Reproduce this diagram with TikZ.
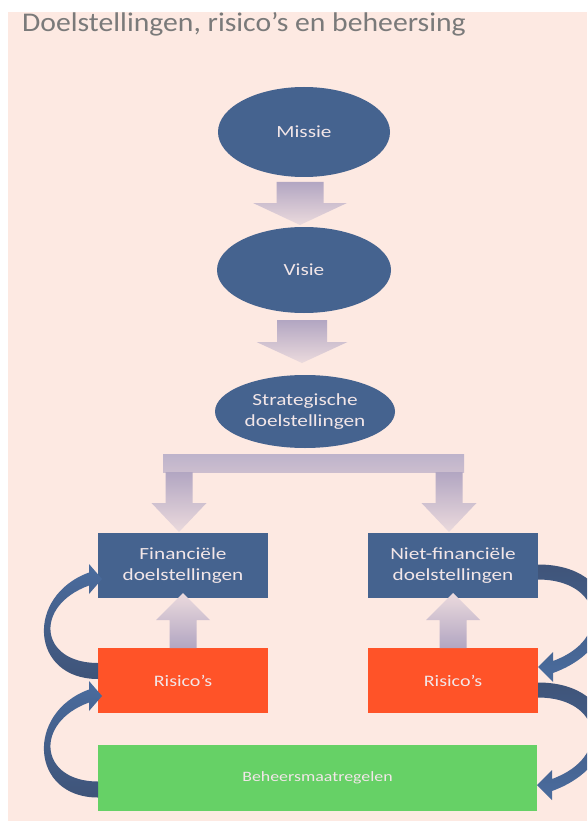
\documentclass[tikz,border=0pt]{standalone}
\usepackage{fontspec}
\setmainfont{Carlito}
\newfontfamily\headfont{Carlito}[FakeStretch=1.1]
\newfontfamily\labelfont{Carlito}[FakeStretch=1.25]
\usepackage{tikz}
\usetikzlibrary{positioning,calc}
\usetikzlibrary{shapes.geometric}
\definecolor{sheetpink}{HTML}{FDE9E2}
\definecolor{boxblue}{HTML}{45638F}
\definecolor{riskred}{HTML}{FF5328}
\definecolor{measuregreen}{HTML}{66D166}
\definecolor{labeltext}{HTML}{F2E6E8}
\definecolor{titlegrey}{HTML}{7A7A7A}
\definecolor{flowdark}{HTML}{B2A6C2}
\definecolor{flowlight}{HTML}{EBDADD}
\definecolor{curldark}{HTML}{3F5479}
\definecolor{curllight}{HTML}{4A6C9E}
% block arrow: style, start, tip, shaft half width, head half width, head length
\newcommand{\blockarrow}[6]{%
	\path[#1] let \p1=#2, \p2=#3, \n1={sign(\y1-\y2)} in
		(\x1-#4,\y1) -- (\x1-#4,\y2+\n1*#6) -- (\x1-#5,\y2+\n1*#6) -- (\x1,\y2)
		-- (\x1+#5,\y2+\n1*#6) -- (\x1+#4,\y2+\n1*#6) -- (\x1+#4,\y1) -- cycle;}
\tikzset{
	ovalnode/.style={ellipse, fill=boxblue, text=labeltext, inner sep=0pt, outer sep=0pt, align=center, font=\labelfont\fontsize{17}{21.5}\selectfont},
	goalbox/.style={rectangle, fill=boxblue, text=labeltext, minimum width=170pt, minimum height=65pt, inner sep=0pt, outer sep=0pt, align=center, font=\labelfont\fontsize{17}{20.5}\selectfont},
	riskbox/.style={goalbox, fill=riskred, font=\labelfont\fontsize{16}{20}\selectfont},
	measurebox/.style={goalbox, fill=measuregreen, minimum width=439pt, minimum height=66pt, font=\labelfont\fontsize{14.3}{18}\selectfont},
	downflow/.style={top color=flowdark, bottom color=flowlight},
	upflow/.style={top color=flowlight, bottom color=flowdark},
	barflow/.style={top color=flowdark!85!white, bottom color=flowdark!55!flowlight},
	leftcurl/.style={top color=curllight, bottom color=curldark},
	rightcurl/.style={top color=curldark, bottom color=curllight},
	heading/.style={text=titlegrey, inner sep=0pt, font=\headfont\fontsize{27}{31}\selectfont}
}
\begin{document}
\begin{tikzpicture}[x=1pt,y=1pt]
	\useasboundingbox (0,0) rectangle (587,-821);
	\clip (0,0) rectangle (587,-821);
	\fill[sheetpink] (8,-12) rectangle (587,-821);
	\node[heading, anchor=base west] (title) at (22,-32) {Doelstellingen, risico’s en beheersing};

	% top chain
	\node[ovalnode, minimum width=172pt, minimum height=90pt] (missie) at (304,-132) {Missie};
	\node[ovalnode, minimum width=174pt, minimum height=86pt, below=50pt of missie] (visie) {Visie};
	\node[ovalnode, minimum width=180pt, minimum height=73pt, below=62pt of visie, xshift=1pt] (strat) {Strategische\\doelstellingen};

	% goals, risks, measures
	\node[goalbox, anchor=north] (finL) at ($(strat.south)+(-122,-85)$) {Financiële\\doelstellingen};
	\node[goalbox, right=100pt of finL] (finR) {Niet-financiële\\doelstellingen};
	\node[riskbox, below=50pt of finL] (risL) {Risico’s};
	\node[riskbox, below=50pt of finR] (risR) {Risico’s};
	\node[measurebox, below=32pt of risL.south west, anchor=north west] (maatr) {Beheersmaatregelen};

	\blockarrow{downflow}{($(missie.south)+(-4,-5)$)}{($(visie.north)+(-4,2)$)}{23.5pt}{47pt}{22pt}
	\blockarrow{downflow}{($(visie.south)+(-2,-7)$)}{($(strat.north)+(-3,12)$)}{25pt}{45.5pt}{21pt}

	\coordinate (split) at ($(strat.south)+(0,-6)$);
	\path[barflow] ($(finL.north |- split)+(-20,0)$) rectangle ($(finR.north |- split)+(11,-18)$);
	\blockarrow{downflow}{($(finL.north |- split)+(-4,-18)$)}{($(finL.north)+(-4,1)$)}{13.5pt}{27.5pt}{29pt}
	\blockarrow{downflow}{($(finR.north |- split)+(-4,-18)$)}{($(finR.north)+(-4,1)$)}{13.5pt}{27.5pt}{29pt}

	\blockarrow{upflow}{(risL.north)}{($(finL.south)+(0,5)$)}{13.5pt}{27pt}{27pt}
	\blockarrow{upflow}{(risR.north)}{($(finR.south)+(0,5)$)}{13.5pt}{27pt}{27pt}

	% curved arrows, left
	\coordinate (tailA) at ($(risL.west)+(0,9.5)$);
	\coordinate (headA) at ($(finL.west)+(0,-13.5)$);
	\path[leftcurl] ($(tailA)+(0,-8)$) to[out=180,in=200,distance=68pt] ($(headA)+(-9,6.5)$)
		-- ($(headA)+(-9,15)$) -- ($(headA)+(4,0)$) -- ($(headA)+(-9,-15)$) -- ($(headA)+(-9,-6.5)$)
		to[out=200,in=180,distance=59pt] ($(tailA)+(0,8)$) -- cycle;
	\coordinate (tailB) at ($(maatr.west)+(0,-11.5)$);
	\coordinate (headB) at ($(risL.west)+(0,-15.5)$);
	\path[leftcurl] ($(tailB)+(0,-8)$) to[out=180,in=200,distance=68pt] ($(headB)+(-9,6.5)$)
		-- ($(headB)+(-9,15)$) -- ($(headB)+(4,0)$) -- ($(headB)+(-9,-15)$) -- ($(headB)+(-9,-6.5)$)
		to[out=200,in=180,distance=59pt] ($(tailB)+(0,8)$) -- cycle;

	% curved arrows, right
	\coordinate (tailC) at ($(finR.east)+(0,-6.5)$);
	\coordinate (headC) at ($(risR.east)+(0,13.5)$);
	\path[rightcurl] ($(tailC)+(0,7.5)$) to[out=0,in=20,distance=82pt] ($(headC)+(15,-6)$)
		-- ($(headC)+(15,-15)$) -- (headC) -- ($(headC)+(15,15)$) -- ($(headC)+(15,6)$)
		to[out=20,in=0,distance=64pt] ($(tailC)+(0,-7.5)$) -- cycle;
	\coordinate (tailD) at ($(risR.east)+(0,-9.5)$);
	\coordinate (headD) at ($(maatr.east)+(0,-7)$);
	\path[rightcurl] ($(tailD)+(0,7.5)$) to[out=0,in=20,distance=82pt] ($(headD)+(15,-6)$)
		-- ($(headD)+(15,-15)$) -- (headD) -- ($(headD)+(15,15)$) -- ($(headD)+(15,6)$)
		to[out=20,in=0,distance=64pt] ($(tailD)+(0,-7.5)$) -- cycle;
\end{tikzpicture}
\end{document}
